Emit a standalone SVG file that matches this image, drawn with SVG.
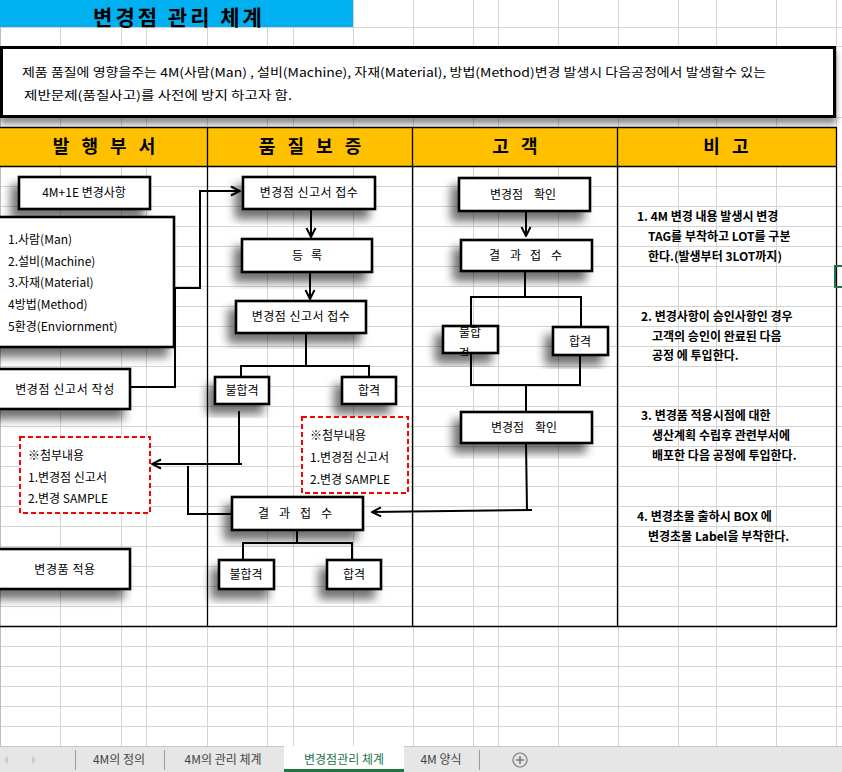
<svg xmlns="http://www.w3.org/2000/svg" width="842" height="772" viewBox="0 0 842 772">
<defs>
<style>
.g{stroke:#D4D4D4;stroke-width:1}
.tb{stroke:#000;stroke-width:1.3}
.box{fill:#fff;stroke:#000;stroke-width:2.6;filter:url(#sh)}
.dash{fill:#fff;stroke:#FF0000;stroke-width:2;stroke-dasharray:5 3}
.t{font-family:"Noto Sans CJK KR","Noto Sans",sans-serif;font-size:12px;fill:#000}
.tm{text-anchor:middle}
.hd{font-family:"Noto Sans CJK KR",sans-serif;font-size:18px;font-weight:bold;text-anchor:middle}
.nt{font-family:"Noto Sans CJK KR",sans-serif;font-size:12px;font-weight:bold;fill:#000}
.c{fill:none;stroke:#000;stroke-width:2}
.tab{font-family:"Noto Sans CJK KR",sans-serif;font-size:12px;fill:#444;text-anchor:middle}
</style>
<filter id="sh" x="-30%" y="-40%" width="160%" height="190%">
<feDropShadow dx="-7" dy="9" stdDeviation="5" flood-color="#000" flood-opacity="0.55"/>
</filter>
<filter id="sh2" x="-5%" y="-20%" width="110%" height="160%">
<feDropShadow dx="0" dy="6" stdDeviation="3" flood-color="#000" flood-opacity="0.45"/>
</filter>
<marker id="arr" viewBox="0 0 12 12" refX="11" refY="6" markerWidth="12" markerHeight="12" markerUnits="userSpaceOnUse" orient="auto">
<path d="M2,1.5 L11,6 L2,10.5" fill="none" stroke="#000" stroke-width="2"/>
</marker>
<clipPath id="clipF"><rect x="443" y="326" width="56" height="30"/></clipPath>
</defs>

<rect x="0" y="0" width="842" height="772" fill="#fff"/>

<!-- grid -->
<g id="grid">
<path class="g" d="M60.5,0V746 M121.5,0V746 M146.5,0V746 M207.5,0V746 M267.5,0V746 M293.5,0V746 M353.5,0V746 M413.5,0V746 M473.5,0V746 M498.5,0V746 M558.5,0V746 M618.5,0V746 M678.5,0V746 M716.5,0V746 M776.5,0V746 M836.5,0V746"/>
<path class="g" d="M0,27.5H842 M0,46.5H842 M0,117.5H842 M0,186.5H842 M0,206.5H842 M0,226.5H842 M0,246.5H842 M0,266.5H842 M0,286.5H842 M0,306.5H842 M0,326.5H842 M0,346.5H842 M0,366.5H842 M0,386.5H842 M0,406.5H842 M0,426.5H842 M0,446.5H842 M0,466.5H842 M0,486.5H842 M0,506.5H842 M0,526.5H842 M0,546.5H842 M0,566.5H842 M0,586.5H842 M0,606.5H842 M0,646.5H842 M0,666.5H842 M0,686.5H842 M0,706.5H842 M0,726.5H842"/>
<line x1="0.5" y1="0" x2="0.5" y2="746" stroke="#BDBDBD"/>
</g>

<!-- title -->
<g id="title">
<rect x="0" y="0" width="353" height="27" fill="#00B0F0"/>
<text x="179" y="25" font-family="Noto Sans CJK KR,sans-serif" font-size="21" font-weight="bold" letter-spacing="3" text-anchor="middle">변경점 관리 체계</text>
</g>

<!-- description -->
<g id="desc">
<rect x="1.5" y="47.5" width="833" height="69" fill="#fff" stroke="#000" stroke-width="3" filter="url(#sh2)"/>
<text class="t" x="22" y="77" font-size="13" textLength="744" lengthAdjust="spacingAndGlyphs">제품 품질에 영향을주는 4M(사람(Man) , 설비(Machine), 자재(Material), 방법(Method)변경 발생시  다음공정에서 발생할수 있는</text>
<text class="t" x="24" y="100" font-size="13" textLength="268" lengthAdjust="spacingAndGlyphs">제반문제(품질사고)를 사전에 방지 하고자 함.</text>
</g>

<!-- table -->
<g id="table">
<rect x="0" y="127" width="836" height="39" fill="#FFC000"/>
<path class="tb" d="M0,127.5H836.5 M0,166.5H836.5 M0,626.5H836.5 M207.5,127V627 M412.5,127V627 M617.5,127V627 M836.5,127V627"/>
<text class="hd" x="106" y="153" letter-spacing="4">발 행 부 서</text>
<text class="hd" x="312" y="153" letter-spacing="4">품 질 보 증</text>
<text class="hd" x="515" y="153" xml:space="preserve">고   객</text>
<text class="hd" x="726" y="153" xml:space="preserve">비   고</text>
</g>

<!-- connectors -->
<g id="connectors">
<polyline class="c" points="130,387 175,387 175,288 200,288 200,191 240,191" marker-end="url(#arr)"/>
<line class="c" x1="311" y1="209" x2="311" y2="237" marker-end="url(#arr)"/>
<line class="c" x1="310" y1="272" x2="310" y2="299" marker-end="url(#arr)"/>
<path class="c" d="M306,333V366 M240,366H370 M241,365V377 M369,365V377"/>
<polyline class="c" points="239,411 239,464 242,464 152,464" marker-end="url(#arr)"/>
<polyline class="c" points="188,466 188,514 232,514"/>
<path class="c" d="M526,443L527,510 M532,510L372,512" marker-end="url(#arr)"/>
<path class="c" d="M297,530V543 M242,543H353 M243,542V560 M352,542V560"/>
<line class="c" x1="526" y1="211" x2="526" y2="236" marker-end="url(#arr)"/>
<path class="c" d="M525,271V297 M470,297H582 M471,296V326 M581,296V327"/>
<path class="c" d="M471,353V385H580V355 M526,385V412"/>
</g>

<!-- column 1 -->
<g id="n-4m1e">
<rect class="box" x="19" y="177" width="131" height="32"/>
<text class="t tm" x="84" y="197">4M+1E 변경사항</text>
</g>
<g id="n-list">
<rect class="box" x="-3" y="217" width="177" height="130"/>
<text class="t" x="8" y="244" font-size="11.5">1.사람(Man)</text>
<text class="t" x="8" y="266" font-size="11.5">2.설비(Machine)</text>
<text class="t" x="8" y="287" font-size="11.5">3.자재(Material)</text>
<text class="t" x="8" y="309" font-size="11.5">4방법(Method)</text>
<text class="t" x="8" y="331" font-size="11.5">5환경(Enviornment)</text>
</g>
<g id="n-write">
<rect class="box" x="-3" y="369" width="133" height="40"/>
<text class="t tm" x="65" y="394" letter-spacing="0.6">변경점 신고서 작성</text>
</g>
<g id="n-attach1">
<rect class="dash" x="20" y="437" width="130" height="76"/>
<text class="t" x="28" y="460">※첨부내용</text>
<text class="t" x="28" y="482">1.변경점 신고서</text>
<text class="t" x="28" y="503">2.변경 SAMPLE</text>
</g>
<g id="n-apply">
<rect class="box" x="-3" y="549" width="133" height="40"/>
<text class="t tm" x="65" y="574" letter-spacing="0.6">변경품 적용</text>
</g>

<!-- column 2 -->
<g id="n-qa-recv1">
<rect class="box" x="243" y="177" width="132" height="32"/>
<text class="t tm" x="309" y="197" letter-spacing="0.5">변경점 신고서 접수</text>
</g>
<g id="n-qa-reg">
<rect class="box" x="242" y="239" width="130" height="33"/>
<text class="t" x="292" y="260">등</text>
<text class="t" x="311" y="260">록</text>
</g>
<g id="n-qa-recv2">
<rect class="box" x="236" y="301" width="130" height="32"/>
<text class="t tm" x="301" y="321" letter-spacing="0.5">변경점 신고서 접수</text>
</g>
<g id="n-qa-fail1">
<rect class="box" x="215" y="377" width="54" height="27"/>
<text class="t tm" x="242" y="395">불합격</text>
</g>
<g id="n-qa-pass1">
<rect class="box" x="342" y="377" width="54" height="27"/>
<text class="t tm" x="369" y="395">합격</text>
</g>
<g id="n-attach2">
<rect class="dash" x="302" y="417" width="106" height="76"/>
<text class="t" x="310" y="440">※첨부내용</text>
<text class="t" x="310" y="462">1.변경점 신고서</text>
<text class="t" x="310" y="484">2.변경 SAMPLE</text>
</g>
<g id="n-qa-result">
<rect class="box" x="232" y="497" width="131" height="33"/>
<text class="t" x="258 279 300 321" y="518">결과접수</text>
</g>
<g id="n-qa-fail2">
<rect class="box" x="219" y="560" width="55" height="29"/>
<text class="t tm" x="246" y="579">불합격</text>
</g>
<g id="n-qa-pass2">
<rect class="box" x="327" y="560" width="54" height="29"/>
<text class="t tm" x="354" y="579">합격</text>
</g>

<!-- column 3 -->
<g id="n-c-check1">
<rect class="box" x="459" y="178" width="131" height="33"/>
<text class="t" x="490" y="199">변경점</text>
<text class="t" x="534" y="199">확인</text>
</g>
<g id="n-c-result">
<rect class="box" x="461" y="240" width="131" height="31"/>
<text class="t" x="489 510 530 551" y="260">결과접수</text>
</g>
<g id="n-c-fail">
<rect class="box" x="443" y="326" width="55" height="27"/>
<g clip-path="url(#clipF)">
<text class="t tm" x="470" y="337">불합</text>
<text class="t tm" x="464" y="358">격</text>
</g>
</g>
<g id="n-c-pass">
<rect class="box" x="553" y="327" width="55" height="28"/>
<text class="t tm" x="580" y="346">합격</text>
</g>
<g id="n-c-check2">
<rect class="box" x="461" y="412" width="131" height="31"/>
<text class="t" x="491" y="432">변경점</text>
<text class="t" x="535" y="432">확인</text>
</g>

<!-- notes -->
<g id="notes">
<text class="nt" x="637" y="221">1. 4M 변경 내용 발생시 변경</text>
<text class="nt" x="648" y="241">TAG를 부착하고 LOT를 구분</text>
<text class="nt" x="648" y="261">한다.(발생부터 3LOT까지)</text>
<text class="nt" x="641" y="321">2. 변경사항이 승인사항인 경우</text>
<text class="nt" x="652" y="341">고객의 승인이 완료된 다음</text>
<text class="nt" x="652" y="360">공정 에 투입한다.</text>
<text class="nt" x="641" y="420">3. 변경품 적용시점에 대한</text>
<text class="nt" x="652" y="440">생산계획 수립후 관련부서에</text>
<text class="nt" x="652" y="460">배포한 다음 공정에 투입한다.</text>
<text class="nt" x="637" y="521">4. 변경초물 출하시 BOX 에</text>
<text class="nt" x="648" y="541">변경초물 Label을 부착한다.</text>
</g>

<rect x="835" y="266" width="10" height="21" fill="none" stroke="#217346" stroke-width="2"/>

<!-- sheet tabs -->
<g id="tabs">
<rect x="0" y="746" width="842" height="26" fill="#E6E6E6"/>
<line x1="0" y1="746.5" x2="842" y2="746.5" stroke="#C6C6C6"/>
<path d="M8,756 L4,760 L8,764Z M32,756 L36,760 L32,764Z" fill="#C8C8C8"/>
<path d="M75.5,750V770 M164.5,750V770 M479.5,750V770" stroke="#9A9A9A"/>
<rect x="284" y="746" width="120" height="26" fill="#fff"/>
<rect x="284" y="769" width="120" height="3" fill="#217346"/>
<text class="tab" x="119" y="764">4M의 정의</text>
<text class="tab" x="223" y="764">4M의 관리 체계</text>
<text class="tab" x="344" y="764" style="fill:#217346">변경점관리 체계</text>
<text class="tab" x="441" y="764">4M 양식</text>
<circle cx="520" cy="760" r="7" fill="none" stroke="#777" stroke-width="1.2"/>
<path d="M516,760H524 M520,756V764" stroke="#777" stroke-width="1.5"/>
</g>
</svg>
